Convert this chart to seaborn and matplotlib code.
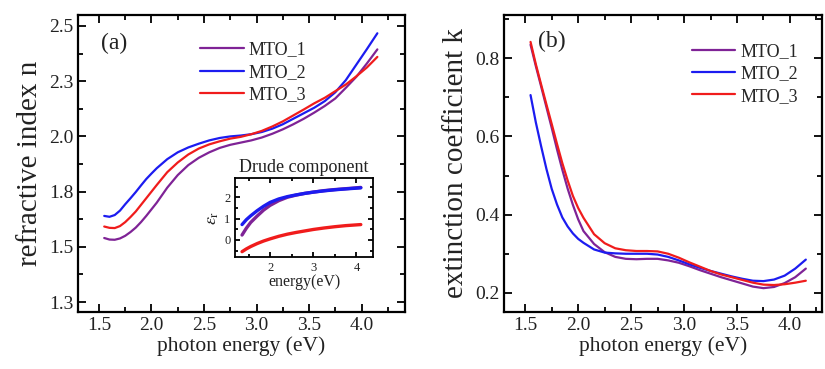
import numpy as np
import pandas as pd
import matplotlib
matplotlib.use("Agg")
import matplotlib.pyplot as plt
from matplotlib.ticker import MultipleLocator, FixedLocator, FormatStrFormatter
import seaborn as sns

# ---- data ----
energy = [1.55, 1.60, 1.65, 1.70, 1.75, 1.80, 1.85, 1.90, 1.95, 2.00, 2.05, 2.15, 2.25, 2.35, 2.45,
          2.55, 2.65, 2.75, 2.85, 2.95, 3.05, 3.15, 3.25, 3.35, 3.45, 3.55, 3.65, 3.75, 3.85,
          3.95, 4.05, 4.15]

n_mto1 = [1.540, 1.533, 1.532, 1.538, 1.550, 1.567, 1.587, 1.612, 1.640, 1.670, 1.700, 1.768, 1.825,
          1.870, 1.903, 1.928, 1.948, 1.962, 1.972, 1.982, 1.995, 2.012, 2.032, 2.055, 2.080, 2.108,
          2.138, 2.172, 2.220, 2.270, 2.330, 2.394]
n_mto2 = [1.640, 1.636, 1.644, 1.664, 1.693, 1.720, 1.748, 1.778, 1.807, 1.832, 1.856, 1.897, 1.928,
          1.950, 1.967, 1.982, 1.993, 2.000, 2.004, 2.010, 2.020, 2.035, 2.055, 2.080, 2.105, 2.130,
          2.160, 2.200, 2.255, 2.325, 2.395, 2.467]
n_mto3 = [1.592, 1.586, 1.585, 1.594, 1.612, 1.635, 1.660, 1.690, 1.720, 1.750, 1.780, 1.838, 1.882,
          1.918, 1.945, 1.964, 1.978, 1.990, 1.998, 2.010, 2.025, 2.045, 2.068, 2.095, 2.122, 2.150,
          2.175, 2.205, 2.235, 2.272, 2.312, 2.360]

k_mto1 = [0.835, 0.780, 0.728, 0.675, 0.622, 0.567, 0.515, 0.467, 0.425, 0.388, 0.358, 0.325, 0.304,
          0.292, 0.287, 0.286, 0.287, 0.287, 0.283, 0.277, 0.268, 0.258, 0.249, 0.240, 0.232, 0.224,
          0.216, 0.212, 0.215, 0.225, 0.240, 0.262]
k_mto2 = [0.706, 0.636, 0.575, 0.517, 0.466, 0.426, 0.393, 0.370, 0.352, 0.338, 0.328, 0.311, 0.303,
          0.301, 0.300, 0.300, 0.300, 0.298, 0.292, 0.283, 0.273, 0.264, 0.256, 0.249, 0.242, 0.236,
          0.231, 0.230, 0.234, 0.244, 0.262, 0.285]
k_mto3 = [0.842, 0.785, 0.733, 0.682, 0.632, 0.581, 0.532, 0.488, 0.448, 0.417, 0.392, 0.350, 0.327,
          0.314, 0.309, 0.307, 0.307, 0.306, 0.300, 0.290, 0.278, 0.267, 0.256, 0.247, 0.240, 0.233,
          0.226, 0.221, 0.220, 0.222, 0.226, 0.231]

# inset: Drude component (epsilon_r)
drude_energy = [1.35, 1.45, 1.55, 1.7, 1.85, 2.0, 2.2, 2.4, 2.6, 2.8, 3.0, 3.25, 3.5, 3.75, 4.1]
eps_mto1 = [0.23, 0.55, 0.82, 1.12, 1.40, 1.62, 1.84, 2.00, 2.10, 2.18, 2.24, 2.31, 2.36, 2.40, 2.46]
eps_mto2 = [0.72, 0.95, 1.13, 1.37, 1.58, 1.76, 1.92, 2.03, 2.11, 2.18, 2.24, 2.30, 2.35, 2.39, 2.44]
eps_mto3 = [-0.55, -0.42, -0.31, -0.17, -0.05, 0.05, 0.17, 0.27, 0.35, 0.42, 0.49, 0.56, 0.62, 0.67, 0.72]

samples = ["MTO_1", "MTO_2", "MTO_3"]
palette = {"MTO_1": "#7f2396", "MTO_2": "#1c1cf0", "MTO_3": "#f01c1c"}

n_ytick_vals = [1.25, 1.5, 1.75, 2.0, 2.25, 2.5]
n_ytick_labels = ["1.3", "1.5", "1.8", "2.0", "2.3", "2.5"]


def long_df(x, series, ycol):
    frames = []
    for name, vals in zip(samples, series):
        frames.append(pd.DataFrame({"E": x, ycol: vals, "sample": name}))
    return pd.concat(frames, ignore_index=True)


df_n = long_df(energy, [n_mto1, n_mto2, n_mto3], "n")
df_k = long_df(energy, [k_mto1, k_mto2, k_mto3], "k")
df_eps = long_df(drude_energy, [eps_mto1, eps_mto2, eps_mto3], "eps")

sns.set_style("ticks")
plt.rcParams["font.family"] = ["Liberation Serif", "DejaVu Serif"]
plt.rcParams["mathtext.fontset"] = "stix"
plt.rcParams["axes.linewidth"] = 1.6
plt.rcParams["axes.edgecolor"] = "black"
plt.rcParams["lines.solid_joinstyle"] = "round"


def style_axes(ax, major_len=6, minor_len=3.5, lsize=14):
    ax.tick_params(which="both", direction="in", top=True, right=True,
                   colors="black", width=1.3, labelsize=lsize, labelcolor="#222222")
    ax.tick_params(which="major", length=major_len)
    ax.tick_params(which="minor", length=minor_len)
    for s in ax.spines.values():
        s.set_visible(True)
        s.set_color("black")


fig = plt.figure(figsize=(8.25, 3.69), dpi=100)
ax1 = fig.add_axes([0.0945, 0.1545, 0.396, 0.805])
ax2 = fig.add_axes([0.611, 0.1545, 0.385, 0.805])

# ---- (a) refractive index ----
sns.lineplot(data=df_n, x="E", y="n", hue="sample", palette=palette, linewidth=1.6, ax=ax1)
ax1.set_xlim(1.3, 4.41)
ax1.set_ylim(1.205, 2.55)
ax1.xaxis.set_major_locator(MultipleLocator(0.5))
ax1.xaxis.set_minor_locator(MultipleLocator(0.25))
ax1.yaxis.set_major_locator(FixedLocator(n_ytick_vals))
ax1.set_yticklabels(n_ytick_labels)
ax1.yaxis.set_minor_locator(MultipleLocator(0.125))
ax1.set_xlabel("photon energy (eV)", fontsize=15.5, color="#222222", labelpad=2)
ax1.set_ylabel("refractive index n", fontsize=21, color="#222222", labelpad=4)
ax1.text(0.07, 0.905, "(a)", transform=ax1.transAxes, fontsize=17, va="center", color="#222222")
style_axes(ax1)
ax1.legend(loc="upper left", bbox_to_anchor=(0.352, 0.935), frameon=False, fontsize=13,
           handlelength=2.4, handletextpad=0.3, labelspacing=0.3, borderaxespad=0)

# ---- inset: Drude component ----
axin = fig.add_axes([0.285, 0.3035, 0.167, 0.214])
sns.lineplot(data=df_eps, x="E", y="eps", hue="sample", palette=palette,
             linewidth=2.4, ax=axin, legend=False)
axin.set_xlim(1.19, 4.38)
axin.set_ylim(-0.8, 2.9)
axin.xaxis.set_major_locator(MultipleLocator(1))
axin.xaxis.set_minor_locator(MultipleLocator(0.5))
axin.yaxis.set_major_locator(MultipleLocator(1))
axin.yaxis.set_minor_locator(MultipleLocator(0.5))
axin.set_xlabel("energy(eV)", fontsize=11.5, color="#222222", labelpad=0)
axin.set_ylabel(r"$\varepsilon_{\rm r}$", fontsize=13, color="#222222", labelpad=2)
axin.set_title("Drude component", fontsize=13, color="#222222", pad=4)
style_axes(axin, major_len=3.5, minor_len=2, lsize=9)
for s in axin.spines.values():
    s.set_linewidth(1.3)

# ---- (b) extinction coefficient ----
sns.lineplot(data=df_k, x="E", y="k", hue="sample", palette=palette, linewidth=1.6, ax=ax2)
ax2.set_xlim(1.3, 4.3)
ax2.set_ylim(0.151, 0.911)
ax2.xaxis.set_major_locator(MultipleLocator(0.5))
ax2.xaxis.set_minor_locator(MultipleLocator(0.25))
ax2.yaxis.set_major_locator(MultipleLocator(0.2))
ax2.yaxis.set_minor_locator(MultipleLocator(0.1))
ax2.yaxis.set_major_formatter(FormatStrFormatter("%.1f"))
ax2.set_xlabel("photon energy (eV)", fontsize=15.5, color="#222222", labelpad=2)
ax2.set_ylabel("extinction coefficient k", fontsize=21, color="#222222", labelpad=4)
ax2.text(0.107, 0.91, "(b)", transform=ax2.transAxes, fontsize=17, va="center", color="#222222")
style_axes(ax2)
ax2.legend(loc="upper left", bbox_to_anchor=(0.568, 0.93), frameon=False, fontsize=13,
           handlelength=2.4, handletextpad=0.3, labelspacing=0.3, borderaxespad=0)

fig.savefig("out.png", dpi=100)
